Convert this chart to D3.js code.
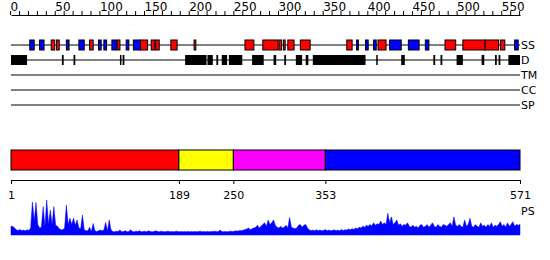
<!DOCTYPE html>
<html><head><meta charset="utf-8">
<script src="https://cdn.jsdelivr.net/npm/d3@7"></script>
<style>
body{margin:0;background:#fff;}
svg{display:block;font-family:"DejaVu Sans",sans-serif;}
</style></head>
<body><svg id="c" width="550" height="260"></svg>
<script>
const seqLength = 571;
const trackNames = ["SS","D","TM","CC","SP"];
// secondary structure: [type, start, end]  H = helix, E = strand
const ssElements = [
 ["E",22,27],["E",33,38],["H",46,50],["H",52,55],["E",63,66],["E",77,83],["H",89,93],
 ["E",99,102],["E",105,108],["E",114,119],["H",120,123],["E",130,133],["E",138,146],
 ["H",146,154],["H",158,162],["H",163,167],["H",180,187],["H",206,208],["H",263,273],
 ["H",283,300],["H",301,304],["H",306,308],["H",311,318],["H",325,336],["H",377,383],
 ["E",388,390],["E",398,401],["E",407,410],["H",412,421],["E",425,438],["E",446,458],
 ["E",465,469],["H",487,499],["H",507,532],["H",532,547],["H",549,554],["E",565,569]
];
// disordered regions: [start, end]
const disorder = [
 [1,19],[58,60],[71,73],[123,124],[126,128],[196,220],[221,227],[231,233],[237,243],
 [245,260],[271,284],[295,298],[307,309],[320,327],[331,334],[339,398],[410,411],
 [438,442],[474,476],[482,484],[500,507],[528,531],[543,545],[547,549],[558,571]
];
const domainBounds = [1,189,250,353,571];
const domainColors = ["#ff0000","#ffff00","#ff00ff","#0000ff"];
const topTicks = d3.range(0,571,10);
// PS profile sampled every 2 residues (residue 1,3,5,...,571)
const psStep = 2;
const psValues = [
 0.25,0.24,0.20,0.15,0.13,0.16,0.12,0.14,0.12,0.15,
 0.13,0.20,0.94,0.40,0.93,0.30,0.20,0.22,0.81,0.25,
 1.00,0.30,0.71,0.30,0.81,0.28,0.25,0.18,0.15,0.15,
 0.20,0.86,0.30,0.48,0.30,0.48,0.28,0.43,0.20,0.18,
 0.57,0.15,0.12,0.12,0.22,0.10,0.33,0.12,0.10,0.12,
 0.14,0.12,0.14,0.36,0.12,0.43,0.15,0.10,0.09,0.11,
 0.10,0.14,0.09,0.10,0.12,0.09,0.10,0.15,0.10,0.09,
 0.11,0.10,0.12,0.09,0.10,0.11,0.09,0.12,0.10,0.09,
 0.10,0.12,0.10,0.09,0.11,0.10,0.09,0.10,0.11,0.09,
 0.10,0.09,0.10,0.11,0.09,0.10,0.09,0.10,0.09,0.10,
 0.09,0.10,0.09,0.10,0.09,0.10,0.11,0.09,0.10,0.09,
 0.10,0.09,0.10,0.10,0.11,0.10,0.09,0.14,0.10,0.09,
 0.10,0.09,0.10,0.11,0.10,0.11,0.12,0.11,0.13,0.12,
 0.14,0.15,0.17,0.20,0.15,0.18,0.20,0.22,0.28,0.20,
 0.25,0.30,0.35,0.25,0.43,0.30,0.35,0.43,0.28,0.22,
 0.20,0.25,0.20,0.22,0.28,0.20,0.50,0.22,0.20,0.18,
 0.20,0.28,0.30,0.22,0.28,0.30,0.20,0.15,0.12,0.14,
 0.12,0.15,0.12,0.14,0.12,0.13,0.16,0.12,0.14,0.12,
 0.13,0.15,0.12,0.14,0.12,0.16,0.13,0.15,0.14,0.17,
 0.15,0.18,0.16,0.20,0.18,0.22,0.20,0.25,0.22,0.28,
 0.25,0.30,0.26,0.35,0.28,0.32,0.30,0.40,0.30,0.35,
 0.30,0.62,0.35,0.52,0.30,0.35,0.43,0.28,0.32,0.25,
 0.30,0.28,0.35,0.25,0.22,0.28,0.22,0.25,0.20,0.28,
 0.30,0.22,0.25,0.30,0.22,0.28,0.35,0.25,0.22,0.30,
 0.25,0.22,0.30,0.28,0.25,0.30,0.35,0.25,0.52,0.28,
 0.25,0.30,0.25,0.22,0.43,0.25,0.30,0.48,0.25,0.22,
 0.30,0.25,0.22,0.35,0.25,0.28,0.22,0.30,0.25,0.35,
 0.22,0.28,0.25,0.30,0.38,0.25,0.30,0.22,0.35,0.25,
 0.30,0.38,0.25,0.30,0.28,0.30
];

const svg = d3.select("#c");
const x = d3.scaleLinear().domain([1,seqLength]).range([11,520]);

// top ruler
const topAxis = d3.axisTop(x).tickValues(topTicks).tickSize(4).tickSizeOuter(0).tickPadding(0)
  .tickFormat(d => d % 50 === 0 ? d : "");
const ta = svg.append("g").attr("transform","translate(0,15)").call(topAxis);
ta.selectAll("text").attr("text-anchor","start").attr("font-size",12).attr("font-family","DejaVu Sans").attr("fill","#000");
ta.selectAll("line,path").attr("stroke","#000");

// tracks
const trackY = d3.scalePoint().domain(trackNames).range([45,105]);
trackNames.forEach(n=>{
  svg.append("line").attr("x1",x(1)).attr("x2",x(seqLength)).attr("y1",trackY(n)).attr("y2",trackY(n))
    .attr("stroke","#000").attr("stroke-width",1);
  svg.append("text").attr("x",x(seqLength)+1).attr("y",trackY(n)).attr("dy","0.36em")
    .attr("font-size",11).text(n);
});
const w = (s,e)=>Math.max(1.5, x(e)-x(s));
svg.append("g").selectAll("rect").data(ssElements).join("rect")
  .attr("x",d=>x(d[1])).attr("width",d=>w(d[1],d[2]))
  .attr("y",trackY("SS")-5).attr("height",10)
  .attr("fill",d=>d[0]==="H"?"#ff0000":"#0000ff").attr("stroke","#000").attr("stroke-width",1);
svg.append("g").selectAll("rect").data(disorder).join("rect")
  .attr("x",d=>x(d[0])).attr("width",d=>w(d[0],d[1]))
  .attr("y",trackY("D")-5).attr("height",10).attr("fill","#000");

// domain bar
const segs = domainColors.map((c,i)=>({s:domainBounds[i],e:domainBounds[i+1],c}));
svg.append("g").selectAll("rect").data(segs).join("rect")
  .attr("x",d=>x(d.s)).attr("width",d=>x(d.e)-x(d.s)).attr("y",150).attr("height",20)
  .attr("fill",d=>d.c).attr("stroke","#000").attr("stroke-width",1);

const botAxis = d3.axisBottom(x).tickValues(domainBounds).tickSize(4).tickSizeOuter(0).tickPadding(7);
const ba = svg.append("g").attr("transform","translate(0,180)").call(botAxis);
ba.selectAll("text").attr("font-size",11).attr("font-family","DejaVu Sans").attr("fill","#000");
ba.selectAll("line,path").attr("stroke","#000");

// PS profile
const y = d3.scaleLinear().domain([0,1]).range([235,200]);
const area = d3.area().x((d,i)=>x(1+i*psStep)).y0(235).y1(d=>y(d));
svg.append("path").datum(psValues).attr("d",area).attr("fill","#0000ff").attr("stroke","#0000ff").attr("stroke-width",0.5);
svg.append("text").attr("x",x(seqLength)+1).attr("y",215).attr("font-size",11).text("PS");
</script></body></html>
